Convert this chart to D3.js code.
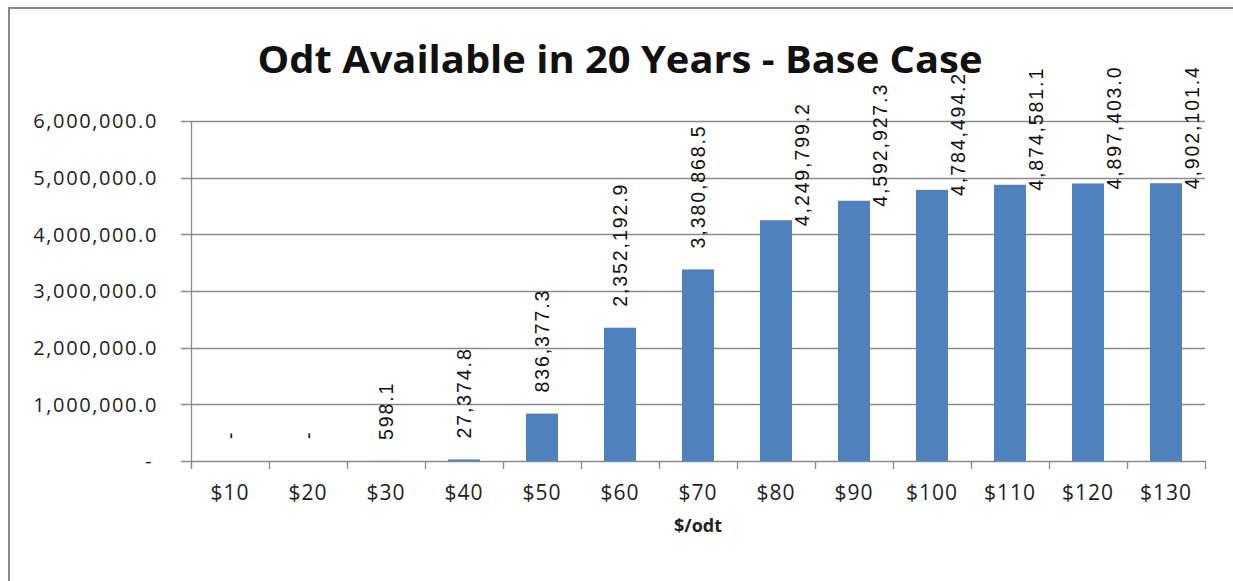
<!DOCTYPE html>
<html>
<head>
<meta charset="utf-8">
<script src="https://cdn.jsdelivr.net/npm/d3@7"></script>
<style>
  html, body { margin: 0; padding: 0; background: #fff; }
  svg { display: block; }
</style>
</head>
<body>
<svg id="chart" width="1233" height="581"></svg>
<script>
// Price points on the supply curve and the oven-dry tonnes available at each
const categories = ["$10", "$20", "$30", "$40", "$50", "$60", "$70", "$80", "$90", "$100", "$110", "$120", "$130"];
const odtValues = [0, 0, 598.1, 27374.8, 836377.3, 2352192.9, 3380868.5, 4249799.2, 4592927.3, 4784494.2, 4874581.1, 4897403.0, 4902101.4];
const yTickValues = [0, 1000000, 2000000, 3000000, 4000000, 5000000, 6000000];
const titleText = "Odt Available in 20 Years - Base Case";
const xAxisTitle = "$/odt";

const svg = d3.select("#chart");
const W = 1233, H = 581;

const plot = { left: 191, right: 1205, top: 121, bottom: 461 };

// chart frame
svg.append("path")
  .attr("d", `M9,${H} L9,8 L${W},8`)
  .attr("fill", "none")
  .attr("stroke", "#8a8a8a")
  .attr("stroke-width", 2);

// title
svg.append("text")
  .attr("x", 620)
  .attr("y", 73)
  .attr("text-anchor", "middle")
  .attr("font-family", "'Open Sans', sans-serif")
  .attr("font-weight", "bold")
  .attr("font-size", 37)
  .attr("fill", "#111")
  .attr("textLength", 725)
  .attr("lengthAdjust", "spacingAndGlyphs")
  .text(titleText);

const x = d3.scaleBand()
  .domain(categories)
  .range([plot.left, plot.right])
  .paddingInner(0.59)
  .paddingOuter(0.295);

const y = d3.scaleLinear()
  .domain([0, 6000000])
  .range([plot.bottom, plot.top]);

const fmt = d3.format(",.1f");
const labelFor = v => v === 0 ? "-" : fmt(v);

// horizontal gridlines (with the short outer tick stub on the left)
svg.append("g")
  .selectAll("line")
  .data(yTickValues)
  .join("line")
  .attr("x1", plot.left - 10)
  .attr("x2", plot.right)
  .attr("y1", d => Math.round(y(d)) + 0.5)
  .attr("y2", d => Math.round(y(d)) + 0.5)
  .attr("stroke", "#8a8a8a")
  .attr("stroke-width", 1.3);

// y axis with its labels
const yAxis = svg.append("g")
  .attr("transform", `translate(${plot.left},0)`)
  .call(d3.axisLeft(y)
    .tickValues(yTickValues)
    .tickSize(0)
    .tickPadding(33)
    .tickFormat(d => d === 0 ? "-" : fmt(d)));
yAxis.select(".domain").remove();
yAxis.selectAll("text")
  .attr("font-family", "'Open Sans', sans-serif")
  .attr("font-size", 20)
  .attr("letter-spacing", 1.6)
  .attr("fill", "#222")
  .attr("dy", "0.34em")
  .attr("dx", d => d === 0 ? -5 : 0);

// vertical axis line
svg.append("line")
  .attr("x1", plot.left + 0.5).attr("x2", plot.left + 0.5)
  .attr("y1", plot.top).attr("y2", plot.bottom + 8)
  .attr("stroke", "#8a8a8a").attr("stroke-width", 1.3);

// category boundary ticks below the baseline
const step = x.step();
const boundaries = d3.range(categories.length + 1).map(i => plot.left + i * step);
svg.append("g")
  .selectAll("line")
  .data(boundaries)
  .join("line")
  .attr("x1", d => Math.round(d) + 0.5)
  .attr("x2", d => Math.round(d) + 0.5)
  .attr("y1", plot.bottom)
  .attr("y2", plot.bottom + 8)
  .attr("stroke", "#8a8a8a")
  .attr("stroke-width", 1.3);

// x axis labels
const xAxis = svg.append("g")
  .attr("transform", `translate(0,${plot.bottom})`)
  .call(d3.axisBottom(x).tickSize(0).tickPadding(24));
xAxis.select(".domain").remove();
xAxis.selectAll("text")
  .attr("font-family", "'Open Sans', sans-serif")
  .attr("font-size", 21)
  .attr("letter-spacing", 1)
  .attr("fill", "#222");

// x axis title
svg.append("text")
  .attr("x", (plot.left + plot.right) / 2)
  .attr("y", 532)
  .attr("text-anchor", "middle")
  .attr("font-family", "'Open Sans', sans-serif")
  .attr("font-weight", "bold")
  .attr("font-size", 18)
  .attr("fill", "#222")
  .text(xAxisTitle);

// bars
svg.append("g")
  .selectAll("rect")
  .data(odtValues)
  .join("rect")
  .attr("x", (d, i) => x(categories[i]))
  .attr("width", x.bandwidth())
  .attr("y", d => y(d))
  .attr("height", d => y(0) - y(d))
  .attr("fill", "#4F81BD");

// rotated value labels; when a label would run past the top of the plot
// it is moved beside the bar instead
const labelGap = 21;
const labels = svg.append("g")
  .selectAll("text")
  .data(odtValues)
  .join("text")
  .attr("font-family", "'Liberation Sans', Arial, sans-serif")
  .attr("font-size", 19.5)
  .attr("letter-spacing", 1.9)
  .attr("fill", "#111")
  .attr("dominant-baseline", "central")
  .text(d => labelFor(d));

labels.each(function(d, i) {
  const len = this.getComputedTextLength();
  const barTop = y(d);
  const cx = x(categories[i]) + x.bandwidth() / 2;
  let lx = cx, ly = barTop - labelGap;
  if (ly - len < plot.top - 5) {
    lx = x(categories[i]) + x.bandwidth() + 10;
    ly = Math.max(barTop + 6, 60 + len);
  }
  if (d === 0) ly = plot.bottom - 22;
  d3.select(this)
    .attr("text-anchor", "start")
    .attr("transform", `translate(${lx},${ly}) rotate(-90)`);
});
</script>
</body>
</html>
